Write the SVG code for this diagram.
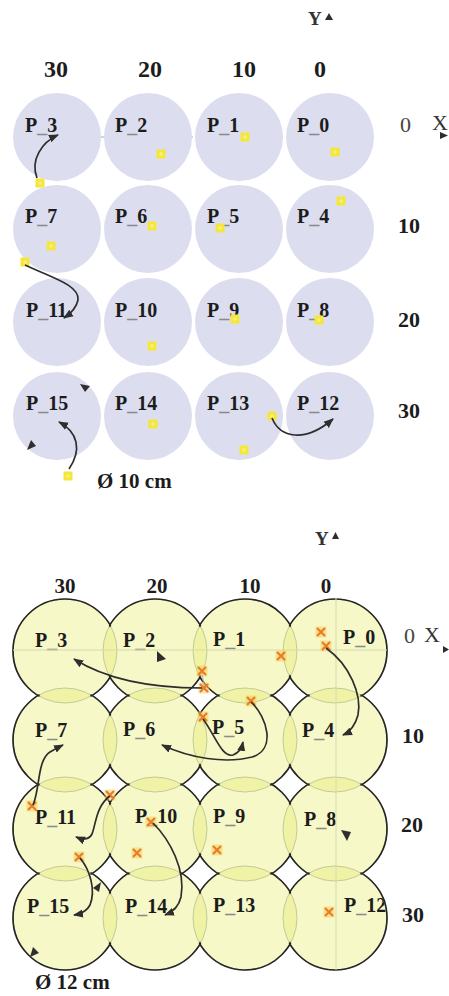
<svg xmlns="http://www.w3.org/2000/svg" width="449" height="996" viewBox="0 0 449 996">
<style>
  .lbl { font-family: "Liberation Serif", "Times New Roman", serif; font-weight: bold; font-size: 20px; fill: #1c1c1c; }
  .us { fill: #8a8a8a; }
  .col { font-family: "Liberation Serif", "Times New Roman", serif; font-weight: bold; font-size: 24px; fill: #1c1c1c; text-anchor: middle; }
  .colb { font-family: "Liberation Serif", "Times New Roman", serif; font-weight: bold; font-size: 21px; fill: #1c1c1c; text-anchor: middle; }
  .row { font-family: "Liberation Serif", "Times New Roman", serif; font-weight: bold; font-size: 22px; fill: #1c1c1c; }
  .ax { font-family: "Liberation Serif", "Times New Roman", serif; font-size: 22px; fill: #333; }
  .yax { font-family: "Liberation Serif", "Times New Roman", serif; font-weight: bold; font-size: 19px; fill: #333; }
  .dia { font-family: "Liberation Serif", "Times New Roman", serif; font-weight: bold; font-size: 21px; fill: #1c1c1c; }
  .tc { fill: #dcdef0; }
  .bc { fill: rgb(230,236,102); fill-opacity: 0.36; }
  .inner { fill: none; stroke: #c4ca98; stroke-width: 1; }
  .outer { fill: none; stroke: #262626; stroke-width: 1.7; }
  .arr { fill: none; stroke: #2e2e2e; stroke-width: 1.7; marker-end: url(#ah); }
  .tri { fill: #2e2e2e; }
  .faint { fill: none; stroke: #a9a9ba; stroke-width: 1; }
  .faintb { fill: none; stroke: #d6dab0; stroke-width: 1; }
</style>
<defs>
  <marker id="ah" markerUnits="userSpaceOnUse" markerWidth="10" markerHeight="10" viewBox="0 0 10 10" refX="9" refY="5" orient="auto">
    <path d="M0,1 L10,5 L0,9 z" fill="#2e2e2e"/>
  </marker>
  <g id="yd"><rect x="-4.5" y="-4.5" width="9" height="9" fill="#f4e73a"/><rect x="-1.5" y="-1.5" width="3" height="3" fill="#f7ef8a"/></g>
  <g id="xm"><rect x="-5.5" y="-5.5" width="11" height="11" fill="#f3d25a" opacity="0.55"/><path d="M-4,-4 L4,4 M4,-4 L-4,4" stroke="#ec7a2c" stroke-width="2.2"/></g>
  <mask id="outerOnly" maskUnits="userSpaceOnUse" x="0" y="560" width="449" height="436">
    <rect x="0" y="560" width="449" height="436" fill="white"/>
    <g fill="black">
      <circle cx="65" cy="651" r="50.6"/><circle cx="155" cy="651" r="50.6"/><circle cx="245" cy="651" r="50.6"/><circle cx="335" cy="651" r="50.6"/>
      <circle cx="65" cy="740" r="50.6"/><circle cx="155" cy="740" r="50.6"/><circle cx="245" cy="740" r="50.6"/><circle cx="335" cy="740" r="50.6"/>
      <circle cx="65" cy="829" r="50.6"/><circle cx="155" cy="829" r="50.6"/><circle cx="245" cy="829" r="50.6"/><circle cx="335" cy="829" r="50.6"/>
      <circle cx="65" cy="918" r="50.6"/><circle cx="155" cy="918" r="50.6"/><circle cx="245" cy="918" r="50.6"/><circle cx="335" cy="918" r="50.6"/>
    </g>
  </mask>
</defs>
<rect x="0" y="0" width="449" height="996" fill="#ffffff"/>

<!-- ===== Top panel (Ø 10 cm) ===== -->
<g id="top-axes">
  <text class="yax" x="308" y="25">Y</text>
  <polygon class="tri" points="325,20 329,13 333,20"/>
  <text class="col" x="56" y="77">30</text>
  <text class="col" x="150" y="77">20</text>
  <text class="col" x="244" y="77">10</text>
  <text class="col" x="320" y="77">0</text>
  <text class="row" x="400" y="132" style="font-weight:normal;fill:#444">0</text>
  <text class="ax" x="432" y="130">X</text>
  <polygon class="tri" points="440,132 448,135.5 440,139" fill="#555"/>
  <text class="row" x="398" y="233">10</text>
  <text class="row" x="398" y="327">20</text>
  <text class="row" x="398" y="418">30</text>
  <line class="faint" x1="13" y1="137" x2="193" y2="137"/>
</g>
<g id="t-P3"><circle class="tc" cx="57" cy="137" r="44"/><text class="lbl" x="25" y="132">P<tspan class="us">_</tspan>3</text></g>
<g id="t-P2"><circle class="tc" cx="148" cy="137" r="44"/><text class="lbl" x="115" y="132">P<tspan class="us">_</tspan>2</text></g>
<g id="t-P1"><circle class="tc" cx="239" cy="137" r="44"/><text class="lbl" x="207" y="132">P<tspan class="us">_</tspan>1</text></g>
<g id="t-P0"><circle class="tc" cx="330" cy="137" r="44"/><text class="lbl" x="297" y="132">P<tspan class="us">_</tspan>0</text></g>
<g id="t-P7"><circle class="tc" cx="57" cy="229" r="44"/><text class="lbl" x="25" y="223">P<tspan class="us">_</tspan>7</text></g>
<g id="t-P6"><circle class="tc" cx="148" cy="229" r="44"/><text class="lbl" x="115" y="223">P<tspan class="us">_</tspan>6</text></g>
<g id="t-P5"><circle class="tc" cx="239" cy="229" r="44"/><text class="lbl" x="207" y="223">P<tspan class="us">_</tspan>5</text></g>
<g id="t-P4"><circle class="tc" cx="330" cy="229" r="44"/><text class="lbl" x="297" y="223">P<tspan class="us">_</tspan>4</text></g>
<g id="t-P11"><circle class="tc" cx="57" cy="322" r="44"/><text class="lbl" x="26" y="317">P<tspan class="us">_</tspan>11</text></g>
<g id="t-P10"><circle class="tc" cx="148" cy="322" r="44"/><text class="lbl" x="115" y="317">P<tspan class="us">_</tspan>10</text></g>
<g id="t-P9"><circle class="tc" cx="239" cy="322" r="44"/><text class="lbl" x="207" y="317">P<tspan class="us">_</tspan>9</text></g>
<g id="t-P8"><circle class="tc" cx="330" cy="322" r="44"/><text class="lbl" x="297" y="317">P<tspan class="us">_</tspan>8</text></g>
<g id="t-P15"><circle class="tc" cx="57" cy="416" r="44"/><text class="lbl" x="26" y="410">P<tspan class="us">_</tspan>15</text></g>
<g id="t-P14"><circle class="tc" cx="148" cy="416" r="44"/><text class="lbl" x="115" y="410">P<tspan class="us">_</tspan>14</text></g>
<g id="t-P13"><circle class="tc" cx="239" cy="416" r="44"/><text class="lbl" x="207" y="410">P<tspan class="us">_</tspan>13</text></g>
<g id="t-P12"><circle class="tc" cx="330" cy="416" r="44"/><text class="lbl" x="297" y="410">P<tspan class="us">_</tspan>12</text></g>
<text class="dia" x="97" y="488">Ø 10 cm</text>

<g id="top-points">
  <use href="#yd" x="245" y="137"/><use href="#yd" x="161" y="154"/><use href="#yd" x="335" y="152"/>
  <use href="#yd" x="40" y="183"/><use href="#yd" x="341" y="201"/><use href="#yd" x="152" y="226"/>
  <use href="#yd" x="220" y="228"/><use href="#yd" x="51" y="246"/><use href="#yd" x="25" y="262"/>
  <use href="#yd" x="152" y="346"/><use href="#yd" x="235" y="319"/><use href="#yd" x="319" y="320"/>
  <use href="#yd" x="153" y="424"/><use href="#yd" x="272" y="416"/><use href="#yd" x="244" y="450"/>
  <use href="#yd" x="68" y="476"/>
</g>
<g id="top-connectors">
  <path class="arr" d="M37,178 C 30,160 42,142 58,135"/>
  <path class="arr" d="M25,265 C 50,277 80,285 78,300 Q 76,310 64,318"/>
  <path class="arr" d="M69,469 C 82,450 78,432 59,422"/>
  <path class="arr" d="M272,418 C 280,438 305,443 333,419"/>
  <polygon class="tri" points="80,384 90,386 85,392"/>
  <polygon class="tri" points="27,450 31,440 36,446"/>
</g>

<!-- ===== Bottom panel (Ø 12 cm) ===== -->
<g id="bottom-axes">
  <text class="yax" x="315" y="545">Y</text>
  <polygon class="tri" points="332,539 335.5,532 339,539"/>
  <text class="colb" x="65" y="593">30</text>
  <text class="colb" x="157" y="593">20</text>
  <text class="colb" x="250" y="593">10</text>
  <text class="colb" x="326" y="593">0</text>
  <text class="row" x="404" y="643" style="font-weight:normal;fill:#444">0</text>
  <text class="ax" x="424" y="642">X</text>
  <polygon class="tri" points="443,646 449,649.5 443,653" fill="#555"/>
  <text class="row" x="402" y="743">10</text>
  <text class="row" x="401" y="832">20</text>
  <text class="row" x="402" y="922">30</text>
</g>
<g id="b-P3"><circle class="bc" cx="65" cy="651" r="52"/><text class="lbl" x="35" y="647">P<tspan class="us">_</tspan>3</text></g>
<g id="b-P2"><circle class="bc" cx="155" cy="651" r="52"/><text class="lbl" x="123" y="647">P<tspan class="us">_</tspan>2</text></g>
<g id="b-P1"><circle class="bc" cx="245" cy="651" r="52"/><text class="lbl" x="213" y="646">P<tspan class="us">_</tspan>1</text></g>
<g id="b-P0"><circle class="bc" cx="335" cy="651" r="52"/><text class="lbl" x="343" y="644">P<tspan class="us">_</tspan>0</text></g>
<g id="b-P7"><circle class="bc" cx="65" cy="740" r="52"/><text class="lbl" x="35" y="737">P<tspan class="us">_</tspan>7</text></g>
<g id="b-P6"><circle class="bc" cx="155" cy="740" r="52"/><text class="lbl" x="123" y="736">P<tspan class="us">_</tspan>6</text></g>
<g id="b-P5"><circle class="bc" cx="245" cy="740" r="52"/><text class="lbl" x="212" y="734">P<tspan class="us">_</tspan>5</text></g>
<g id="b-P4"><circle class="bc" cx="335" cy="740" r="52"/><text class="lbl" x="302" y="737">P<tspan class="us">_</tspan>4</text></g>
<g id="b-P11"><circle class="bc" cx="65" cy="829" r="52"/><text class="lbl" x="35" y="824">P<tspan class="us">_</tspan>11</text></g>
<g id="b-P10"><circle class="bc" cx="155" cy="829" r="52"/><text class="lbl" x="135" y="823">P<tspan class="us">_</tspan>10</text></g>
<g id="b-P9"><circle class="bc" cx="245" cy="829" r="52"/><text class="lbl" x="213" y="823">P<tspan class="us">_</tspan>9</text></g>
<g id="b-P8"><circle class="bc" cx="335" cy="829" r="52"/><text class="lbl" x="304" y="826">P<tspan class="us">_</tspan>8</text></g>
<g id="b-P15"><circle class="bc" cx="65" cy="918" r="52"/><text class="lbl" x="27" y="913">P<tspan class="us">_</tspan>15</text></g>
<g id="b-P14"><circle class="bc" cx="155" cy="918" r="52"/><text class="lbl" x="125" y="913">P<tspan class="us">_</tspan>14</text></g>
<g id="b-P13"><circle class="bc" cx="245" cy="918" r="52"/><text class="lbl" x="213" y="912">P<tspan class="us">_</tspan>13</text></g>
<g id="b-P12"><circle class="bc" cx="335" cy="918" r="52"/><text class="lbl" x="344" y="912">P<tspan class="us">_</tspan>12</text></g>

<g id="bottom-outlines">
  <g class="inner">
    <circle cx="65" cy="651" r="52"/><circle cx="155" cy="651" r="52"/><circle cx="245" cy="651" r="52"/><circle cx="335" cy="651" r="52"/>
    <circle cx="65" cy="740" r="52"/><circle cx="155" cy="740" r="52"/><circle cx="245" cy="740" r="52"/><circle cx="335" cy="740" r="52"/>
    <circle cx="65" cy="829" r="52"/><circle cx="155" cy="829" r="52"/><circle cx="245" cy="829" r="52"/><circle cx="335" cy="829" r="52"/>
    <circle cx="65" cy="918" r="52"/><circle cx="155" cy="918" r="52"/><circle cx="245" cy="918" r="52"/><circle cx="335" cy="918" r="52"/>
  </g>
  <g class="outer" mask="url(#outerOnly)">
    <circle cx="65" cy="651" r="52"/><circle cx="155" cy="651" r="52"/><circle cx="245" cy="651" r="52"/><circle cx="335" cy="651" r="52"/>
    <circle cx="65" cy="740" r="52"/><circle cx="155" cy="740" r="52"/><circle cx="245" cy="740" r="52"/><circle cx="335" cy="740" r="52"/>
    <circle cx="65" cy="829" r="52"/><circle cx="155" cy="829" r="52"/><circle cx="245" cy="829" r="52"/><circle cx="335" cy="829" r="52"/>
    <circle cx="65" cy="918" r="52"/><circle cx="155" cy="918" r="52"/><circle cx="245" cy="918" r="52"/><circle cx="335" cy="918" r="52"/>
  </g>
  <line class="faintb" x1="13" y1="650" x2="387" y2="650"/>
  <line class="faintb" x1="336" y1="598" x2="336" y2="970"/>
</g>
<text class="dia" x="35" y="989">Ø 12 cm</text>

<g id="bottom-points">
  <line class="faint" x1="202" y1="672" x2="204" y2="688"/>
  <use href="#xm" x="321" y="632"/><use href="#xm" x="326" y="646"/><use href="#xm" x="281" y="656"/>
  <use href="#xm" x="202" y="671"/><use href="#xm" x="204" y="688"/><use href="#xm" x="251" y="701"/>
  <use href="#xm" x="203" y="717"/><use href="#xm" x="32" y="806"/><use href="#xm" x="110" y="795"/>
  <use href="#xm" x="151" y="822"/><use href="#xm" x="137" y="853"/><use href="#xm" x="79" y="857"/>
  <use href="#xm" x="217" y="850"/><use href="#xm" x="329" y="912"/>
</g>
<g id="bottom-connectors">
  <path class="arr" d="M202,688 Q 120,688 74,659"/>
  <path class="arr" d="M326,648 C 350,665 362,695 358,715 Q 354,730 343,735"/>
  <path class="arr" d="M251,702 C 268,718 276,750 252,757 C 225,764 190,758 162,745"/>
  <path class="arr" d="M203,719 C 215,735 222,758 233,755 Q 241,752 243,742"/>
  <path class="arr" d="M33,805 C 40,790 37,760 50,752 Q 55,749 63,745"/>
  <path class="arr" d="M110,796 C 96,806 96,824 92,834 Q 88,842 76,837"/>
  <path class="arr" d="M80,858 C 90,870 96,890 90,905 Q 86,913 74,915"/>
  <path class="arr" d="M153,823 C 170,840 186,870 181,897 Q 178,910 165,915"/>
  <polygon class="tri" points="157,651 166,659 157,662"/>
  <polygon class="tri" points="101,882 99,892 93,888"/>
  <polygon class="tri" points="30,957 33,947 39,953"/>
  <polygon class="tri" points="341,830 351,832 347,841"/>
</g>
</svg>
